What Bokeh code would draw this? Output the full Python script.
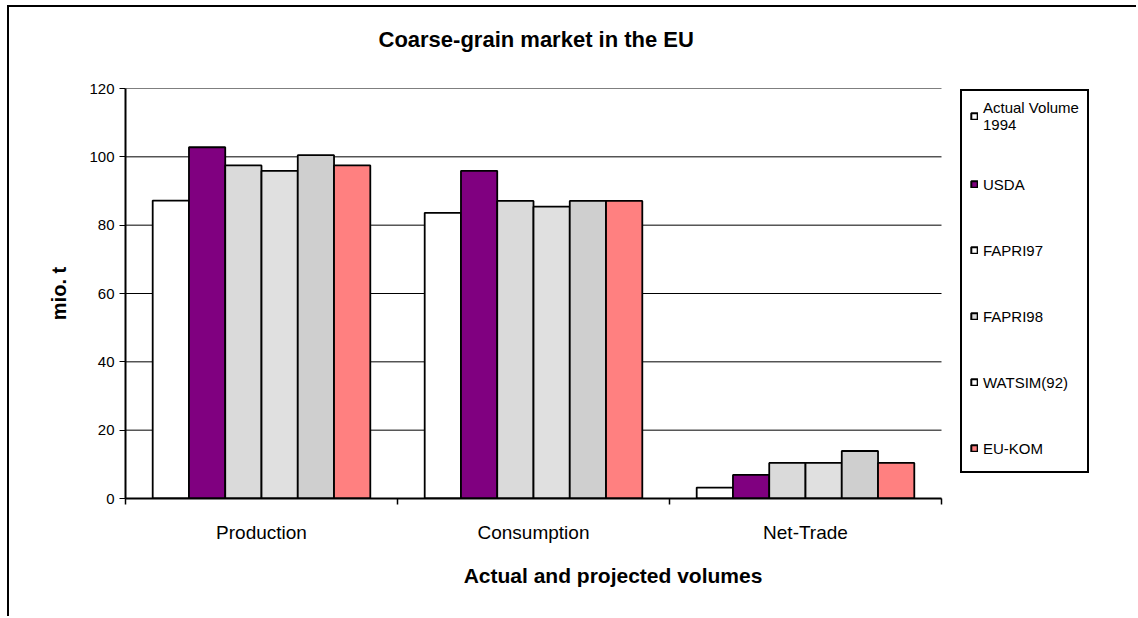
from bokeh.plotting import figure
from bokeh.models import Range1d, FixedTicker, Legend, LegendItem, Title
from bokeh.embed import file_html
from bokeh.resources import INLINE

# ---- data ----
categories = ["Production", "Consumption", "Net-Trade"]
series_names = ["Actual Volume\n1994", "USDA", "FAPRI97", "FAPRI98", "WATSIM(92)", "EU-KOM"]
actual_1994 = [87.2, 83.6, 3.2]
usda = [102.8, 95.9, 6.9]
fapri97 = [97.5, 87.1, 10.4]
fapri98 = [95.9, 85.4, 10.4]
watsim92 = [100.5, 87.1, 13.9]
eu_kom = [97.5, 87.1, 10.4]
y_ticks = [0, 20, 40, 60, 80, 100, 120]

series_values = [actual_1994, usda, fapri97, fapri98, watsim92, eu_kom]
bar_colors = ["#ffffff", "#800080", "#dadada", "#e0e0e0", "#cfcfcf", "#ff8080"]
legend_colors = ["#ffffff", "#800080", "#ffffff", "#dcdcdc", "#ffffff", "#ff8080"]

FONT = "Liberation Sans"

# frame: 975 px wide; the category area (0..3) takes the first 816 px, legend sits to its right
n_cat = len(categories)
x_end = n_cat * 975 / 816

p = figure(width=1129, height=611, output_backend="svg", toolbar_location=None,
           x_range=Range1d(0, x_end), y_range=Range1d(0, 120),
           min_border_left=116, min_border_right=38, min_border_top=81, min_border_bottom=120)
p.styles = {"border-left": "2px solid black", "border-top": "2px solid black",
            "margin-left": "7px", "margin-top": "5px"}
p.outline_line_color = None
p.background_fill_color = "white"
p.border_fill_color = "white"

p.title.text = "Coarse-grain market in the EU"
p.title.align = "left"
p.title.offset = 253
p.title.text_font = FONT
p.title.text_font_size = "22px"
p.title.text_font_style = "bold"
p.title.text_color = "black"
p.title.standoff = 0

# spacer between frame and title (keeps the title high while the frame stays in place)
spacer = Title(text=" ", text_font_size="1px", standoff=34)
p.add_layout(spacer, "above")

centers = [i + 0.5 for i in range(n_cat)]

# horizontal gridlines limited to the category area
p.segment(x0=[0] * len(y_ticks), y0=y_ticks, x1=[n_cat] * len(y_ticks), y1=y_ticks,
          line_color="black", line_width=1, level="underlay")

n = len(series_values)
bw = 0.8 / n
for i, vals in enumerate(series_values):
    xs = [c + (i - (n - 1) / 2) * bw for c in centers]
    p.vbar(x=xs, top=vals, width=bw, bottom=0, fill_color=bar_colors[i],
           line_color="black", line_width=1.8)

# legend swatches (as they appear in the reference legend); NaN rows are never drawn in the plot
items = []
for name, col in zip(series_names, legend_colors):
    r = p.vbar(x=[float("nan")], top=[float("nan")], width=bw, fill_color=col,
               line_color="black", line_width=2)
    items.append(LegendItem(label=name, renderers=[r]))

legend = Legend(items=items, location=(835, 25))
legend.label_text_font = FONT
legend.label_text_font_size = "15px"
legend.label_text_line_height = 1.2
legend.label_text_color = "black"
legend.glyph_width = 8
legend.glyph_height = 8
legend.spacing = 36
legend.padding = 8
legend.margin = 0
legend.label_standoff = 5
legend.label_height = 30
legend.border_line_color = "black"
legend.border_line_alpha = 1
legend.border_line_width = 2
legend.background_fill_color = "white"
legend.background_fill_alpha = 1
p.add_layout(legend, "center")

# grid (drawn by the segments above)
p.xgrid.grid_line_color = None
p.ygrid.grid_line_color = None

# y axis
p.yaxis.ticker = FixedTicker(ticks=y_ticks)
p.yaxis.axis_label = "mio. t"
p.yaxis.axis_label_text_font = FONT
p.yaxis.axis_label_text_font_size = "20px"
p.yaxis.axis_label_text_font_style = "bold"
p.yaxis.axis_label_text_color = "black"
p.yaxis.axis_label_standoff = 16
p.yaxis.major_label_text_font = FONT
p.yaxis.major_label_text_font_size = "15px"
p.yaxis.major_label_text_color = "black"
p.yaxis.major_label_standoff = 5
p.yaxis.major_tick_out = 6
p.yaxis.major_tick_in = 0
p.yaxis.major_tick_line_color = "black"
p.yaxis.minor_tick_line_color = None
p.yaxis.axis_line_width = 2
p.yaxis.axis_line_color = "black"

# x axis
p.xaxis.bounds = (0, n_cat)
p.xaxis.ticker = FixedTicker(ticks=centers, minor_ticks=list(range(n_cat + 1)))
p.xaxis.major_label_overrides = {c: lab for c, lab in zip(centers, categories)}
p.xaxis.major_tick_line_color = None
p.xaxis.major_tick_out = 0
p.xaxis.major_tick_in = 0
p.xaxis.minor_tick_line_color = "black"
p.xaxis.minor_tick_line_width = 1.5
p.xaxis.minor_tick_out = 6
p.xaxis.minor_tick_in = 0
p.xaxis.major_label_text_font = FONT
p.xaxis.major_label_text_font_size = "19px"
p.xaxis.major_label_text_color = "black"
p.xaxis.major_label_standoff = 17
p.xaxis.axis_label = "Actual and projected volumes"
p.xaxis.axis_label_text_font = FONT
p.xaxis.axis_label_text_font_size = "21px"
p.xaxis.axis_label_text_font_style = "bold"
p.xaxis.axis_label_text_color = "black"
p.xaxis.axis_label_standoff = 18
p.xaxis.axis_line_width = 2
p.xaxis.axis_line_color = "black"

open("out.html", "w").write(file_html(p, INLINE))
